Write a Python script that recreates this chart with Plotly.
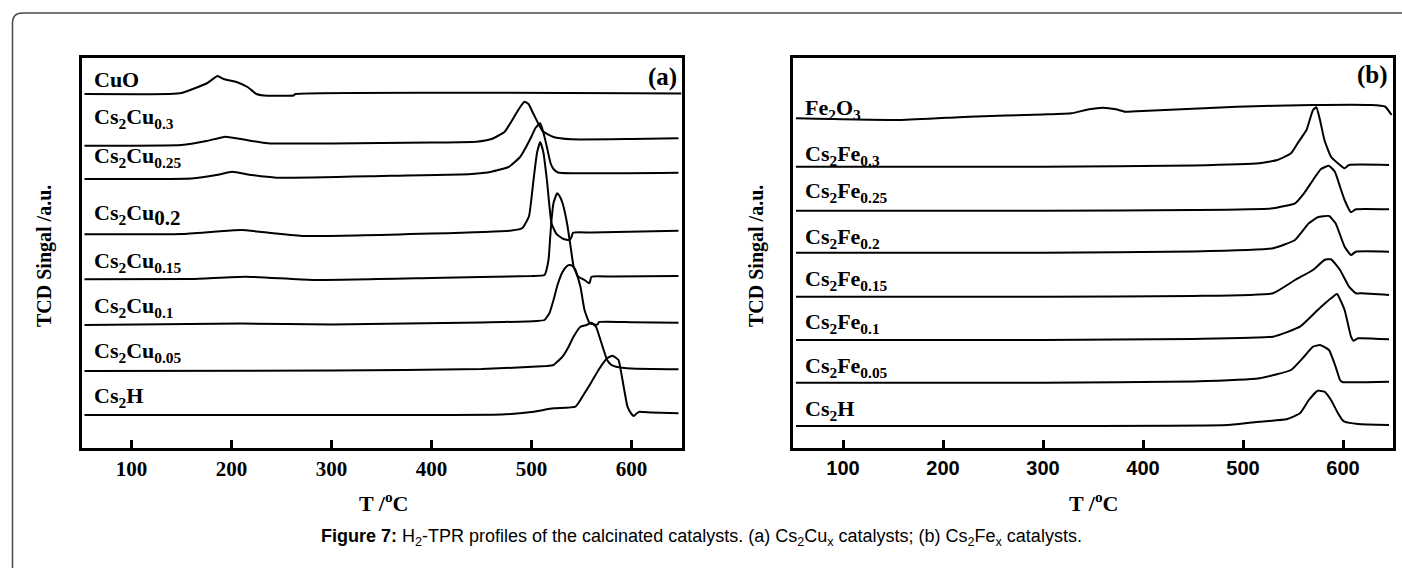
import plotly.graph_objects as go

W, H = 1402, 568

# ---------------- Panel (a): Cs2Cux catalysts ----------------
T_CuO = [53, 138, 150, 164, 176, 186, 192, 205, 216, 225, 232, 262, 264, 650]
S_CuO = [354, 354, 355, 360, 365, 372, 369, 366, 361, 354, 352.5, 352.5, 354, 354.5]

T_Cu030 = [53, 150, 175, 194, 215, 236, 300, 400, 445, 460, 473, 482, 488, 493, 497, 502, 511, 522, 540, 600, 647]
S_Cu030 = [302.3, 303, 307, 311.3, 308, 304.7, 304.5, 305.5, 306.3, 309, 316, 330, 340, 346.3, 344, 334, 317, 311, 308.7, 309, 309.7]

T_Cu025 = [53, 160, 185, 200.6, 220, 245, 350, 440, 460, 477, 488.6, 494, 499.7, 504, 508.7, 512, 515.4, 519, 522, 526.5, 540, 647]
S_Cu025 = [269, 269.5, 273, 276.3, 273, 270.3, 272, 274, 276.3, 281, 291, 300, 311, 320, 324.7, 315, 301, 285, 279, 275.5, 274.7, 275.3]

T_Cu020 = [53, 150, 185, 210, 240, 272, 400, 480, 491, 497.5, 502, 505.5, 508.7, 512, 515.4, 520, 525, 532, 538, 540, 541.5, 560, 647]
S_Cu020 = [213.7, 214, 216.5, 218, 215, 212, 214.5, 217.5, 220, 231.7, 268, 295, 306, 295, 268, 224.7, 214, 209, 208, 211, 215.3, 215.5, 217.3]

T_Cu015 = [53, 160, 214, 281, 400, 500, 513, 517, 518.5, 520, 522, 525.6, 528, 531, 535.5, 540, 542, 546, 549, 553, 558, 560, 580, 647]
S_Cu015 = [168.7, 169, 171.3, 168, 170, 172, 173, 188, 208, 228, 245, 254.7, 252, 245, 225, 195, 182, 172, 170, 168, 164.7, 171.3, 171.5, 172]

T_Cu010 = [53, 210, 300, 450, 505, 513, 518, 522, 526, 531, 535, 537.7, 541, 544, 549, 553, 558, 563, 566, 567.5, 600, 647]
S_Cu010 = [123, 124.5, 123.5, 125.5, 127, 128, 135, 148, 163, 176, 181.5, 183, 182, 178, 161, 138, 125, 123.5, 123.5, 126, 125.8, 125.3]

T_Cu005 = [53, 300, 450, 515, 522, 531, 537, 542, 549, 555, 560, 564.5, 569, 575.6, 580, 584.6, 600, 647]
S_Cu005 = [77, 77.5, 79, 82, 83, 91.3, 101, 111.3, 121.3, 123, 125.3, 121.3, 108, 88, 83, 81.3, 79.5, 78.7]

T_CsHa = [53, 300, 470, 500, 522, 544, 553, 560, 567, 575.6, 581, 587, 591, 596, 600, 602.4, 605, 608, 620, 647]
S_CsHa = [33, 33, 33.5, 36, 39.7, 41.3, 54.7, 66, 78, 89.7, 92.3, 88, 68, 41.3, 34, 32, 34.5, 36.3, 35.5, 34.7]

# ---------------- Panel (b): Cs2Fex catalysts ----------------
T_Fe2O3 = [53, 158, 226, 300, 328.5, 346, 360, 373, 382, 405, 494, 570, 628, 642, 648.6]
S_Fe2O3 = [329.7, 328, 331.3, 333.5, 334.7, 338.7, 340.3, 338.7, 336.3, 337.3, 341.3, 343, 343, 341.5, 333]

T_Fe030 = [53, 300, 450, 516.5, 534.4, 548, 554.6, 556.8, 563.5, 570, 573.4, 577, 581.4, 588, 597, 601.6, 606, 646]
S_Fe030 = [281.3, 281.3, 282.5, 284.7, 288, 294.7, 304.7, 308, 318, 338, 340.7, 328, 308, 291.3, 283, 279.7, 283, 283]

T_Fe025 = [53, 300, 450, 530, 552, 561, 570, 578, 586, 592, 597, 601.6, 608, 612.8, 646]
S_Fe025 = [237.3, 237.3, 238, 239.7, 244.7, 254.7, 268, 279, 282.3, 276, 261.3, 248, 235.7, 238.7, 238.7]

T_Fe020 = [53, 300, 450, 530, 552, 565.8, 574.7, 586, 592.6, 601.6, 608, 612.8, 646]
S_Fe020 = [195.3, 195.3, 196.5, 199.7, 208, 224.7, 230.7, 232, 224.7, 201.3, 193, 196.3, 196.3]

T_Fe015 = [53, 300, 450, 530, 552, 570, 581.4, 588, 597, 606, 612.8, 619.5, 646]
S_Fe015 = [151.3, 151.3, 152, 154.7, 168, 178, 188, 188.7, 178, 161.3, 154.7, 154.7, 153]

T_Fe010 = [53, 300, 450, 530, 557, 574.7, 588, 594, 601.6, 608, 610.5, 615, 646]
S_Fe010 = [108, 108, 109, 111.3, 121.3, 138, 149.7, 154, 138, 111.3, 107.3, 109.7, 108.7]

T_Fe005 = [53, 300, 450, 516.5, 548, 561, 570, 577, 586, 592.6, 597, 599.4, 646]
S_Fe005 = [65.3, 65.3, 66.5, 69.7, 78, 91.3, 101.3, 103, 98, 81.3, 68, 66, 66.3]

T_CsHb = [53, 300, 485, 516.5, 543.4, 557, 565.8, 574.7, 581.4, 588, 595, 599.4, 601.6, 615, 646]
S_CsHb = [22, 22, 23, 26.3, 28.7, 34.7, 48, 57.3, 56.3, 48, 34.7, 28, 26.3, 24, 23]

LABELS_A = ["CuO",
            "Cs<sub>2</sub>Cu<sub>0.3</sub>",
            "Cs<sub>2</sub>Cu<sub>0.25</sub>",
            "Cs<sub>2</sub>Cu<sub><span style='font-size:21px'>0.2</span></sub>",
            "Cs<sub>2</sub>Cu<sub>0.15</sub>",
            "Cs<sub>2</sub>Cu<sub>0.1</sub>",
            "Cs<sub>2</sub>Cu<sub>0.05</sub>",
            "Cs<sub>2</sub>H"]
LABEL_Y_A = [368, 330, 291, 233, 186, 141, 96, 51]

LABELS_B = ["Fe<sub>2</sub>O<sub>3</sub>",
            "Cs<sub>2</sub>Fe<sub>0.3</sub>",
            "Cs<sub>2</sub>Fe<sub>0.25</sub>",
            "Cs<sub>2</sub>Fe<sub>0.2</sub>",
            "Cs<sub>2</sub>Fe<sub>0.15</sub>",
            "Cs<sub>2</sub>Fe<sub>0.1</sub>",
            "Cs<sub>2</sub>Fe<sub>0.05</sub>",
            "Cs<sub>2</sub>H"]
LABEL_Y_B = [339, 293, 256, 210, 168, 125, 81, 38]

TICKS = [100, 200, 300, 400, 500, 600]

series_a = [(T_CuO, S_CuO), (T_Cu030, S_Cu030), (T_Cu025, S_Cu025), (T_Cu020, S_Cu020),
            (T_Cu015, S_Cu015), (T_Cu010, S_Cu010), (T_Cu005, S_Cu005), (T_CsHa, S_CsHa)]
series_b = [(T_Fe2O3, S_Fe2O3), (T_Fe030, S_Fe030), (T_Fe025, S_Fe025), (T_Fe020, S_Fe020),
            (T_Fe015, S_Fe015), (T_Fe010, S_Fe010), (T_Fe005, S_Fe005), (T_CsHb, S_CsHb)]

fig = go.Figure()
line_style = dict(color="black", width=2, shape="spline", smoothing=0.4)
for t, s in series_a:
    fig.add_trace(go.Scatter(x=t, y=s, mode="lines", line=line_style, xaxis="x", yaxis="y",
                             showlegend=False, hoverinfo="skip"))
for t, s in series_b:
    fig.add_trace(go.Scatter(x=t, y=s, mode="lines", line=line_style, xaxis="x2", yaxis="y2",
                             showlegend=False, hoverinfo="skip"))

def px_x(x):
    return x / W

def px_y(y):
    return 1 - y / H

serif = "Liberation Serif, Times New Roman, serif"
sans = "Liberation Sans, Arial, sans-serif"

xcommon = dict(range=[50, 650], showline=True, mirror=True, linewidth=3, linecolor="black",
               ticks="inside", ticklen=8, tickwidth=3, tickcolor="black", tickvals=TICKS,
               showgrid=False, zeroline=False, fixedrange=True)
ycommon = dict(range=[0, 390], showline=True, mirror=True, linewidth=3, linecolor="black",
               showticklabels=False, ticks="", showgrid=False, zeroline=False, fixedrange=True,
               domain=[px_y(448), px_y(58)])

LBL = 22
annotations = []
for lab, yv in zip(LABELS_A, LABEL_Y_A):
    annotations.append(dict(text=lab, x=60, y=yv, xref="x", yref="y", xanchor="left", yanchor="middle",
                            showarrow=False, font=dict(family=serif, size=LBL, color="black", weight="bold")))
for lab, yv in zip(LABELS_B, LABEL_Y_B):
    annotations.append(dict(text=lab, x=59.5, y=yv, xref="x2", yref="y2", xanchor="left", yanchor="middle",
                            showarrow=False, font=dict(family=serif, size=LBL, color="black", weight="bold")))
annotations.append(dict(text="(a)", x=647, y=371, xref="x", yref="y", xanchor="right", yanchor="middle",
                        showarrow=False, font=dict(family=serif, size=25, color="black", weight="bold")))
annotations.append(dict(text="(b)", x=647, y=373, xref="x2", yref="y2", xanchor="right", yanchor="middle",
                        showarrow=False, font=dict(family=serif, size=25, color="black", weight="bold")))
for xc in (383, 1093):
    annotations.append(dict(text="T /<sup>o</sup>C", x=px_x(xc), y=px_y(502), xref="paper", yref="paper",
                            xanchor="center", yanchor="middle", showarrow=False,
                            font=dict(family=serif, size=22, color="black", weight="bold")))
for xc in (44, 756):
    annotations.append(dict(text="TCD Singal /a.u.", x=px_x(xc), y=px_y(256), xref="paper", yref="paper",
                            xanchor="center", yanchor="middle", textangle=-90, showarrow=False,
                            font=dict(family=serif, size=20, color="black", weight="bold")))
annotations.append(dict(
    text="<b>Figure 7:</b> H<sub>2</sub>-TPR profiles of the calcinated catalysts. (a) Cs<sub>2</sub>Cu<sub>x</sub> catalysts; (b) Cs<sub>2</sub>Fe<sub>x</sub> catalysts.",
    x=px_x(702), y=px_y(537), xref="paper", yref="paper", xanchor="center", yanchor="middle",
    showarrow=False, font=dict(family=sans, size=18, color="black")))

# rounded outer frame (extends past right/bottom edges)
x0, y0, r = 12.5, 13, 10
path = (f"M {px_x(x0)},{px_y(620)} L {px_x(x0)},{px_y(y0 + r)} "
        f"Q {px_x(x0)},{px_y(y0)} {px_x(x0 + r)},{px_y(y0)} L {px_x(1420)},{px_y(y0)}")
shapes = [dict(type="path", path=path, xref="paper", yref="paper", line=dict(color="#4a4a4a", width=1.5))]

fig.update_layout(
    width=W, height=H, margin=dict(l=0, r=0, t=0, b=0),
    paper_bgcolor="white", plot_bgcolor="white", showlegend=False,
    xaxis=dict(domain=[px_x(81.5), px_x(681.5)], anchor="y",
               tickfont=dict(family=serif, size=21, color="black", weight="bold"), **xcommon),
    yaxis=dict(anchor="x", **ycommon),
    xaxis2=dict(domain=[px_x(793), px_x(1393)], anchor="y2",
                tickfont=dict(family=sans, size=20, color="black", weight="bold"), **xcommon),
    yaxis2=dict(anchor="x2", **ycommon),
    annotations=annotations, shapes=shapes,
)

fig.write_html("out.html")
